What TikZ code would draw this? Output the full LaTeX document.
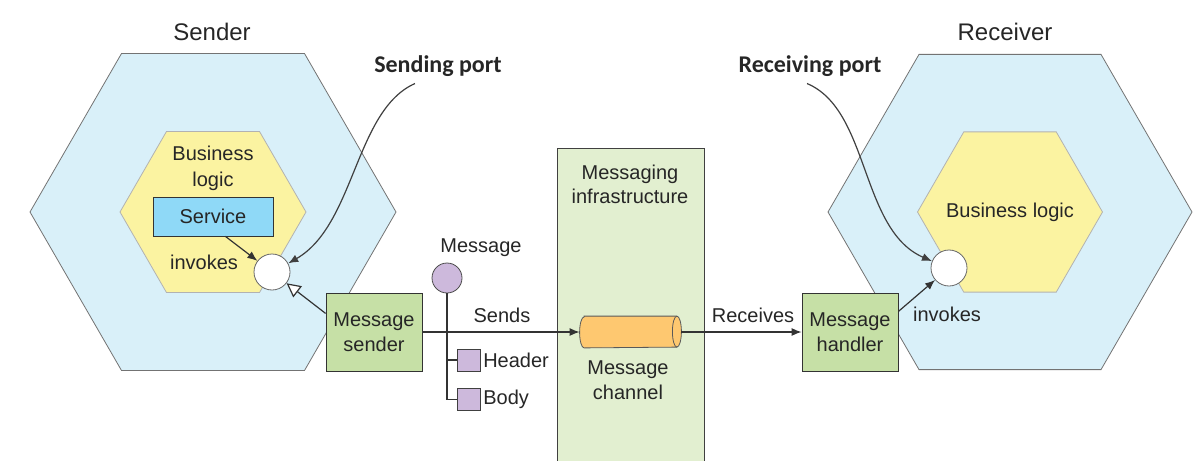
\documentclass[tikz,border=0pt]{standalone}
\usepackage{fontspec}
\setmainfont{Liberation Sans}
\newfontfamily\portfont{Carlito}
\usetikzlibrary{shapes.geometric,arrows.meta}
\definecolor{hexblue}{HTML}{D9F0F9}
\definecolor{logicyellow}{HTML}{FBF3A1}
\definecolor{servblue}{HTML}{8FD9F7}
\definecolor{boxgreen}{HTML}{C6E0A6}
\definecolor{infragreen}{HTML}{E2EFD0}
\definecolor{chanorange}{HTML}{FEC870}
\definecolor{msgpurple}{HTML}{CDB9DC}
\begin{document}
\begin{tikzpicture}[x=0.5pt, y=-0.5pt,
  every node/.style={font=\fontsize{10}{12.5}\selectfont, text=black!85},
  hex/.style={regular polygon, regular polygon sides=6, inner sep=0pt, draw=black!55},
  comp/.style={draw=black!80, fill=boxgreen, minimum width=48pt, minimum height=39pt, align=center, inner sep=0pt},
  port/.style={circle, draw=black!60, fill=white, minimum size=18pt, inner sep=0pt},
  part/.style={draw=black!75, fill=msgpurple, minimum width=11.5pt, minimum height=11pt, inner sep=0pt},
  arr/.style={-{Latex[length=5pt,width=4pt]}, draw=black!80, line width=0.6pt},
  capend/.style={x radius=2.25pt, y radius=7.75pt},
  title/.style={font=\fontsize{12}{14}\selectfont},
  portlabel/.style={font=\portfont\bfseries\fontsize{12}{14}\selectfont}]
\useasboundingbox (0,0) rectangle (1203,460);
% sender side
\node[hex, fill=hexblue, minimum size=183pt] (senderhex) at (213,212) {};
\node[hex, fill=logicyellow, draw=black!30, minimum size=93pt] (senderlogic) at (213,212) {};
\node[title] (sendertitle) at (212,32) {Sender};
\node[align=center, font=\fontsize{10}{13}\selectfont] (senderlogictext) at (213,168) {Business\\logic};
\node[draw=black!80, fill=servblue, minimum width=60pt, minimum height=19.5pt, inner sep=0pt] (service) at (213,216.5) {Service};
\node (invokes1) at (204,262) {invokes};
\node[port] (sendport) at (272,272) {};
\node[comp] (sender) at (374,332) {Message\\sender};
% receiver side
\node[hex, fill=hexblue, minimum size=182pt] (receiverhex) at (1010,212) {};
\node[hex, fill=logicyellow, draw=black!30, minimum size=92.5pt] (receiverlogic) at (1010,212) {};
\node[title] (receivertitle) at (1005,32) {Receiver};
\node (receiverlogictext) at (1010,212) {Business logic};
\node[port] (recvport) at (949,268) {};
\node (invokes2) at (947,314) {invokes};
\node[comp] (handler) at (850,332) {Message\\handler};
% messaging infrastructure
\node[draw=black!75, fill=infragreen, minimum width=73.5pt, minimum height=166pt, inner sep=0pt] (infra) at (630.5,314) {};
\node[align=center, font=\fontsize{10}{12}\selectfont] (infratext) at (630,184) {Messaging\\infrastructure};
\node[minimum width=50.5pt, minimum height=15.5pt, inner sep=0pt] (channel) at (630.5,332) {};
\path[draw=black!65, fill=chanorange] ([xshift=2.25pt]channel.north west) -- ([xshift=-2.25pt]channel.north east)
  arc[start angle=90, end angle=-90, capend] -- ([xshift=2.25pt]channel.south west)
  arc[start angle=270, end angle=90, capend] -- cycle;
\draw[black!65] ([xshift=-2.25pt]channel.north east) arc[start angle=90, end angle=270, capend];
\node[align=center, font=\fontsize{10}{12.5}\selectfont] (channeltext) at (628,380) {Message\\channel};
% message
\node[circle, draw=black!70, fill=msgpurple, minimum size=15pt, inner sep=0pt] (msg) at (447,278) {};
\node (msgtext) at (481,248) {Message};
\node[part] (header) at (469,360) {};
\node[part] (body) at (469,399.5) {};
\node[anchor=west, inner sep=1pt] (headertext) at (header.east) {Header};
\node[anchor=west, inner sep=1pt] (bodytext) at (body.east) {Body};
\node (sends) at (502,315) {Sends};
\node (receives) at (753,315) {Receives};
% port labels
\node[portlabel] (sendlabel) at (438,66) {Sending port};
\node[portlabel] (recvlabel) at (810,66) {Receiving port};
% connectors
\draw[black!80, line width=0.6pt] (msg.south) |- (body.west);
\draw[black!80, line width=0.6pt] (msg.south |- header.west) -- (header.west);
\draw[arr] (sender.east) -- (sender.east -| channel.west);
\draw[arr] (channel.east) -- (channel.east -| handler.west);
\draw[arr] (service.-58) -- (sendport);
\draw[-{Triangle[open, length=7pt, width=7pt, fill=white]}, draw=black!80, line width=0.6pt] (sender.159) -- (sendport);
\draw[arr] (handler.23) -- (recvport);
\draw[arr, black!75] ([xshift=-11.5pt]sendlabel.south) .. controls (355,110) and (355,225) .. (sendport.28);
\draw[arr, black!75] ([xshift=-1.5pt]recvlabel.south) .. controls (870,110) and (860,230) .. (recvport.158);
\end{tikzpicture}
\end{document}
